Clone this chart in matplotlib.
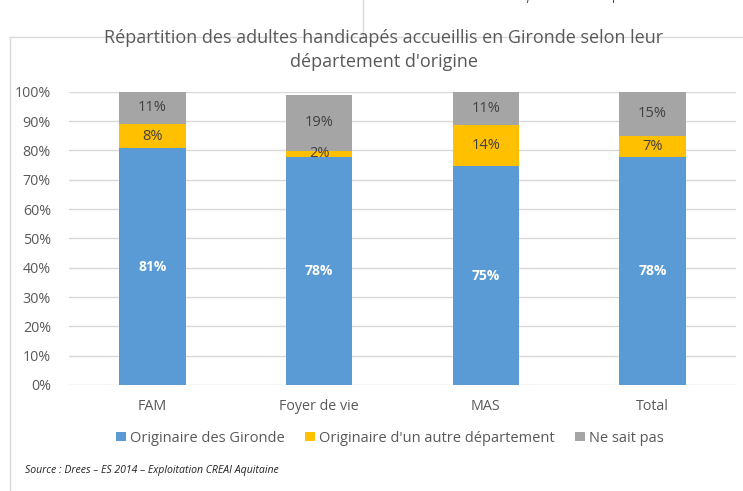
import matplotlib
matplotlib.use("Agg")
import matplotlib.pyplot as plt
from matplotlib.patches import Patch
from matplotlib.lines import Line2D
import numpy as np

categories = ["FAM", "Foyer de vie", "MAS", "Total"]
gironde = [80.7, 77.8, 74.6, 77.7]
autre = [8.2, 2.0, 14.2, 7.3]
nsp = [11.1, 19.1, 11.2, 15.0]
series_names = ["Originaire des Gironde", "Originaire d'un autre département", "Ne sait pas"]
yticks = [0, 10, 20, 30, 40, 50, 60, 70, 80, 90, 100]

colors = ["#5B9BD5", "#FFC000", "#A5A5A5"]
txt = "#595959"
plt.rcParams['font.family'] = ['Open Sans', 'DejaVu Sans']

fig = plt.figure(figsize=(7.43, 4.91), dpi=100)
ax = fig.add_axes([69/743, 1-385/491, 667/743, (385-91.7)/491])

x = np.arange(len(categories))
w = 0.40
bottom = np.zeros(len(categories))
for vals, col in zip([gironde, autre, nsp], colors):
    ax.bar(x, vals, w, bottom=bottom, color=col, zorder=3)
    bottom = bottom + np.array(vals)

# labels
for i in range(len(categories)):
    ax.text(x[i], gironde[i]/2, f"{round(gironde[i])}%", ha='center', va='center',
            color='white', fontsize=10, fontweight='bold', zorder=4)
    ax.text(x[i], gironde[i] + autre[i]/2, f"{round(autre[i])}%", ha='center', va='center',
            color='#404040', fontsize=10.5, zorder=4)
    ax.text(x[i], gironde[i] + autre[i] + nsp[i]/2, f"{round(nsp[i])}%", ha='center', va='center',
            color='#404040', fontsize=10.5, zorder=4)

ax.set_xlim(-0.5, 3.5)
ax.set_ylim(0, 100)
ax.set_yticks(yticks)
ax.set_yticklabels([f"{t}%" for t in yticks], color=txt, fontsize=10.3)
ax.set_xticks(x)
ax.set_xticklabels(categories, color=txt, fontsize=10.3)
ax.tick_params(axis='both', length=0)
ax.tick_params(axis='y', pad=13)
ax.tick_params(axis='x', pad=10)
ax.grid(axis='y', color='#D9D9D9', linewidth=1, zorder=0)
for s in ax.spines.values():
    s.set_visible(False)

fig.text(384/743, 1-38/491, "Répartition des adultes handicapés accueillis en Gironde selon leur",
         ha='center', va='center', color=txt, fontsize=13)
fig.text(384/743, 1-62/491, "département d'origine",
         ha='center', va='center', color=txt, fontsize=13)

handles = [Patch(facecolor=c, edgecolor='none') for c in colors]
leg = fig.legend(handles, series_names, loc='center', bbox_to_anchor=(390/743, 1-438/491),
                 ncol=3, frameon=False, fontsize=10.5, handlelength=0.65, handleheight=0.65,
                 handletextpad=0.3, columnspacing=1.4)
for t in leg.get_texts():
    t.set_color(txt)

fig.text(25/743, 1-470/491, "Source : Drees – ES 2014 – Exploitation CREAI Aquitaine",
         ha='left', va='center', color='#222222', fontsize=7.6, style='italic')

# frame lines
fig.add_artist(Line2D([9.5/743, 9.5/743], [0, 1-37/491], color='#D9D9D9', lw=1))
fig.add_artist(Line2D([9.5/743, 1], [1-37/491, 1-37/491], color='#D9D9D9', lw=1))
fig.add_artist(Line2D([363/743, 363/743], [1-37/491, 1], color='#D9D9D9', lw=1))
fig.text(394/743, 1+2/491, "Source : Drees – ES 2014 – Exploitation CREAI Aquitaine",
         ha='left', va='center', color='#222222', fontsize=7.6, style='italic')

fig.savefig("out.png", dpi=100)
